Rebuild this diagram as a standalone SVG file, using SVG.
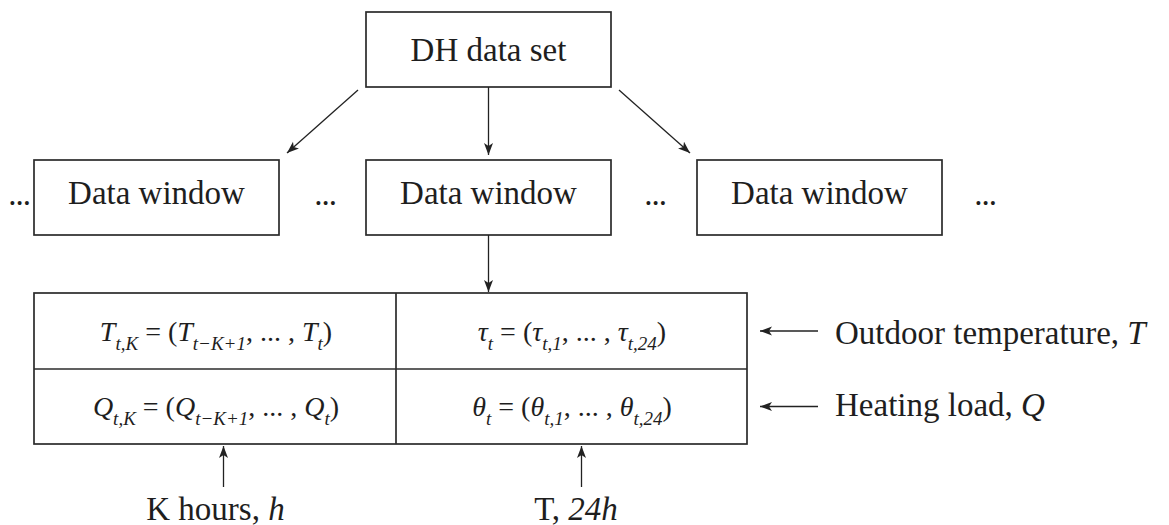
<svg xmlns="http://www.w3.org/2000/svg" width="1169" height="525" viewBox="0 0 1169 525">
<style>
.box{fill:#fff;stroke:#2b2b2b;stroke-width:1.7}
.t{font-family:"Liberation Serif",serif;font-size:33px;fill:#1e1e1e}
.f{font-family:"Liberation Serif",serif;font-size:28px;fill:#1e1e1e}
.i{font-style:italic}
.s{font-size:19px}
.dots{font-family:"Liberation Serif",serif;font-size:33px;fill:#1e1e1e;letter-spacing:-1px}
.c{stroke:#222;stroke-width:1.3;fill:none}
</style>
<defs>
<marker id="ah" markerUnits="userSpaceOnUse" markerWidth="13" markerHeight="10" refX="12" refY="4.5" orient="auto">
<path d="M0,0 L12,4.5 L0,9 L3,4.5 z" fill="#222"/>
</marker>
</defs>
<g id="dh">
<rect class="box" x="366" y="12" width="245" height="75"/>
<text class="t" x="488.5" y="61" text-anchor="middle">DH data set</text>
</g>
<g id="win1">
<rect class="box" x="34" y="160" width="245" height="75"/>
<text class="t" x="156.5" y="204" text-anchor="middle">Data window</text>
</g>
<g id="win2">
<rect class="box" x="366" y="160" width="245" height="75"/>
<text class="t" x="488.5" y="204" text-anchor="middle">Data window</text>
</g>
<g id="win3">
<rect class="box" x="697" y="160" width="245" height="75"/>
<text class="t" x="819.5" y="204" text-anchor="middle">Data window</text>
</g>
<g id="ellipses">
<text class="dots" x="19" y="205" text-anchor="middle">...</text>
<text class="dots" x="325" y="205" text-anchor="middle">...</text>
<text class="dots" x="655" y="205" text-anchor="middle">...</text>
<text class="dots" x="985" y="205" text-anchor="middle">...</text>
</g>
<g id="table">
<rect class="box" x="34" y="293" width="713" height="151"/>
<line class="box" x1="34" y1="369" x2="747" y2="369"/>
<line class="box" x1="396" y1="293" x2="396" y2="444"/>
<text class="f" x="216" y="341" text-anchor="middle"><tspan class="i">T</tspan><tspan class="i s" dy="9">t,K</tspan><tspan dy="-9"> = (</tspan><tspan class="i">T</tspan><tspan class="i s" dy="9">t−K+1</tspan><tspan dy="-9">, ... , </tspan><tspan class="i">T</tspan><tspan class="i s" dy="9">t</tspan><tspan dy="-9">)</tspan></text>
<text class="f" x="216" y="416" text-anchor="middle"><tspan class="i">Q</tspan><tspan class="i s" dy="9">t,K</tspan><tspan dy="-9"> = (</tspan><tspan class="i">Q</tspan><tspan class="i s" dy="9">t−K+1</tspan><tspan dy="-9">, ... , </tspan><tspan class="i">Q</tspan><tspan class="i s" dy="9">t</tspan><tspan dy="-9">)</tspan></text>
<text class="f" x="572" y="341" text-anchor="middle"><tspan class="i">τ</tspan><tspan class="i s" dy="9">t</tspan><tspan dy="-9"> = (</tspan><tspan class="i">τ</tspan><tspan class="i s" dy="9">t,1</tspan><tspan dy="-9">, ... , </tspan><tspan class="i">τ</tspan><tspan class="i s" dy="9">t,24</tspan><tspan dy="-9">)</tspan></text>
<text class="f" x="572" y="416" text-anchor="middle"><tspan class="i">θ</tspan><tspan class="i s" dy="9">t</tspan><tspan dy="-9"> = (</tspan><tspan class="i">θ</tspan><tspan class="i s" dy="9">t,1</tspan><tspan dy="-9">, ... , </tspan><tspan class="i">θ</tspan><tspan class="i s" dy="9">t,24</tspan><tspan dy="-9">)</tspan></text>
</g>
<g id="labels">
<text class="t" x="835" y="344">Outdoor temperature, <tspan class="i">T</tspan></text>
<text class="t" x="835" y="416">Heating load, <tspan class="i">Q</tspan></text>
<text class="t" x="215.5" y="520" text-anchor="middle">K hours, <tspan class="i">h</tspan></text>
<text class="t" x="576" y="520" text-anchor="middle">T, <tspan class="i">24h</tspan></text>
</g>
<g id="connectors">
<line class="c" x1="358" y1="90" x2="287" y2="153" marker-end="url(#ah)"/>
<line class="c" x1="488.5" y1="87" x2="488.5" y2="155" marker-end="url(#ah)"/>
<line class="c" x1="619" y1="90" x2="690" y2="153" marker-end="url(#ah)"/>
<line class="c" x1="488.5" y1="235" x2="488.5" y2="292" marker-end="url(#ah)"/>
<line class="c" x1="818" y1="331" x2="760" y2="331" marker-end="url(#ah)"/>
<line class="c" x1="818" y1="406.5" x2="760" y2="406.5" marker-end="url(#ah)"/>
<line class="c" x1="223.5" y1="487" x2="223.5" y2="446" marker-end="url(#ah)"/>
<line class="c" x1="581.5" y1="487" x2="581.5" y2="446" marker-end="url(#ah)"/>
</g>
</svg>
